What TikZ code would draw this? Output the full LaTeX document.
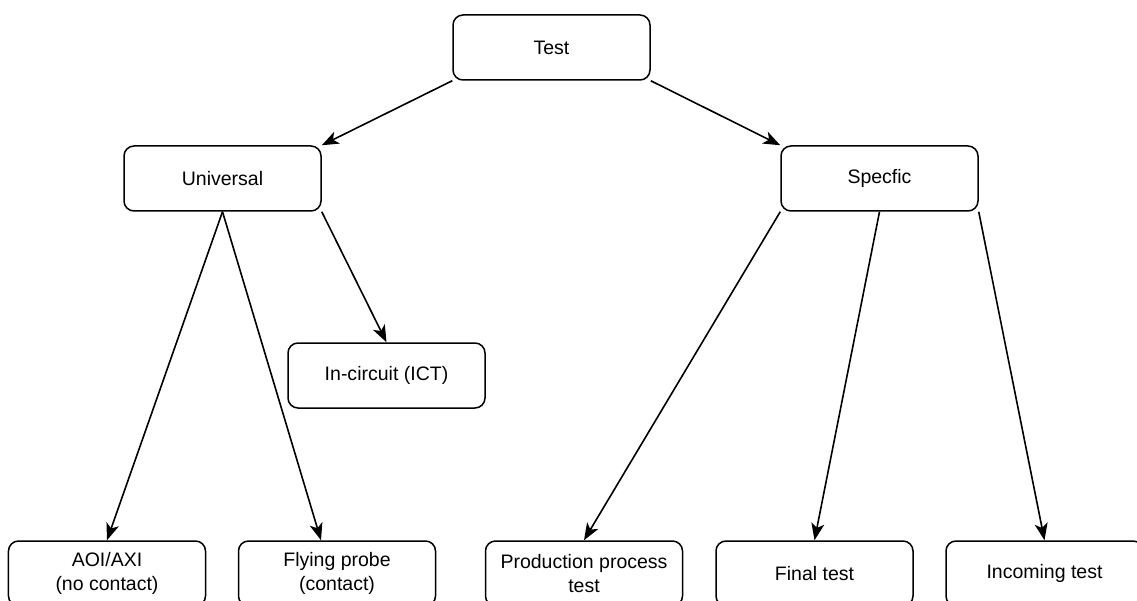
\documentclass[tikz,border=0pt]{standalone}
\usepackage{fontspec}
\setmainfont{Liberation Sans}
\usetikzlibrary{arrows.meta}

\begin{document}
\begin{tikzpicture}[
        box/.style={draw, rounded corners=0.2cm, line width=0.03cm, minimum width=3.94cm, minimum height=1.3cm, inner sep=1pt, align=center, font=\fontsize{11.1}{13.6}\selectfont},
        arr/.style={line width=0.032cm, -{Stealth[length=0.34cm, width=0.26cm, inset=0.09cm]}}
    ]
    \useasboundingbox (0, 0) rectangle (22.74, 12);

    \node[box] (test) at (11.03, 11.05) {Test};

    \node[box] (univ) at (4.45, 8.43) {Universal};
    \node[box] (spec) at (17.59, 8.43) {Specfic};

    \node[box] (ict) at (7.73, 4.49) {In-circuit (ICT)};

    \node[box] (aoi) at (2.14, 0.53) {AOI/AXI\\(no contact)};
    \node[box] (fly) at (6.74, 0.53) {Flying probe\\(contact)};
    \node[box] (prod) at (11.68, 0.53) {Production process\\test};
    \node[box] (final) at (16.29, 0.53) {Final test};
    \node[box] (inc) at (20.89, 0.53) {Incoming test};

    \draw[arr] (test.south west) -- (univ.north east);
    \draw[arr] (test.south east) -- (spec.north west);

    \draw[arr] (univ.south) -- (aoi.north);
    \draw[arr] (univ.south) -- ([xshift=-0.32cm]fly.north);
    \draw[arr] (univ.south east) -- (ict.north);

    \draw[arr] (spec.south west) -- (prod.north);
    \draw[arr] (spec.south) -- (final.north);
    \draw[arr] (spec.south east) -- (inc.north);
\end{tikzpicture}
\end{document}
